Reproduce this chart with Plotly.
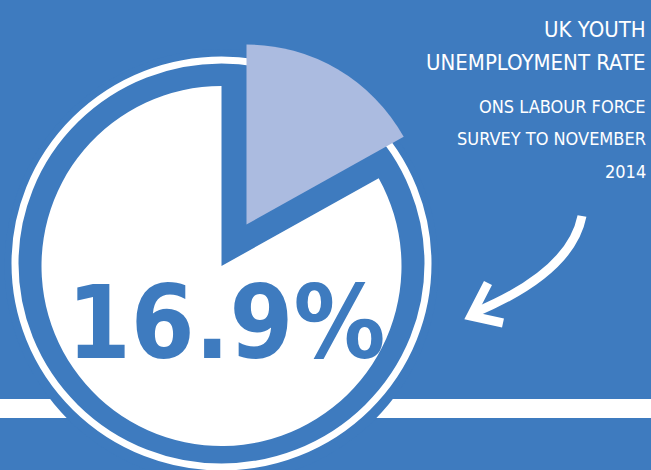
import plotly.graph_objects as go

# ---- data ----
categories = ["Unemployed (16-24)", "Rest"]
values = [16.9, 83.1]
big_label = "16.9%"
title_lines = ["UK YOUTH", "UNEMPLOYMENT RATE"]
subtitle_lines = ["ONS LABOUR FORCE", "SURVEY TO NOVEMBER", "2014"]

W, H = 651, 470
BLUE = "#3e7bbf"
LIGHT = "#abbbe0"
WHITE = "#ffffff"
CLEAR = "rgba(0,0,0,0)"
FONT = "DejaVu Sans Condensed, Liberation Sans Narrow, Arial Narrow, sans-serif"


def px(x):
    return x / W


def py(y):
    return 1 - y / H


def dom(cx, cy, r):
    return dict(x=[px(cx - r), px(cx + r)], y=[py(cy + r), py(cy - r)])


fig = go.Figure()

# main (white) part of the pie
fig.add_trace(go.Pie(
    labels=categories, values=values, sort=False, direction="clockwise",
    rotation=0, textinfo="none", hoverinfo="skip", showlegend=False,
    marker=dict(colors=[CLEAR, WHITE], line=dict(width=0)),
    domain=dom(221.5, 266, 180),
))
# exploded (light) slice
fig.add_trace(go.Pie(
    labels=categories, values=values, sort=False, direction="clockwise",
    rotation=0, textinfo="none", hoverinfo="skip", showlegend=False,
    marker=dict(colors=[LIGHT, CLEAR], line=dict(width=0)),
    domain=dom(246.5, 224.5, 180),
))

shapes = [
    # white band
    dict(type="rect", xref="paper", yref="paper", x0=0, x1=1,
         y0=py(418), y1=py(399), fillcolor=WHITE, line=dict(width=0),
         layer="below"),
    # blue disc interrupting the band
    dict(type="circle", xref="paper", yref="paper",
         x0=px(221.5 - 217), x1=px(221.5 + 217),
         y0=py(266 + 217), y1=py(266 - 217),
         fillcolor=BLUE, line=dict(width=0), layer="below"),
    # white ring
    dict(type="circle", xref="paper", yref="paper",
         x0=px(15), x1=px(428), y0=py(467), y1=py(60),
         fillcolor=CLEAR, line=dict(color=WHITE, width=7), layer="below"),
    # arrow body
    dict(type="path", xref="paper", yref="paper",
         path=f"M {px(582)} {py(216)} Q {px(571)} {py(272)} {px(476)} {py(312)}",
         line=dict(color=WHITE, width=9), fillcolor=CLEAR, layer="above"),
    # arrow head
    dict(type="path", xref="paper", yref="paper",
         path=f"M {px(488)} {py(283)} L {px(471)} {py(316)} L {px(503)} {py(323)}",
         line=dict(color=WHITE, width=9), fillcolor=CLEAR, layer="above"),
]

annotations = [
    dict(text=big_label, x=px(226), y=py(322), xref="paper", yref="paper",
         xanchor="center", yanchor="middle", showarrow=False,
         font=dict(family=FONT, size=102, color=BLUE, weight="bold")),
]
title_y = [29.5, 62.5]
for t, yy in zip(title_lines, title_y):
    annotations.append(dict(
        text=t, x=px(648), y=py(yy), xref="paper", yref="paper",
        xanchor="right", yanchor="middle", showarrow=False,
        font=dict(family=FONT, size=22, color=WHITE)))
sub_y = [106, 139, 171]
for t, yy in zip(subtitle_lines, sub_y):
    annotations.append(dict(
        text=t, x=px(648), y=py(yy), xref="paper", yref="paper",
        xanchor="right", yanchor="middle", showarrow=False,
        font=dict(family=FONT, size=18, color=WHITE)))

fig.update_layout(
    width=W, height=H, margin=dict(l=0, r=0, t=0, b=0),
    paper_bgcolor=BLUE, plot_bgcolor=BLUE,
    shapes=shapes, annotations=annotations, showlegend=False,
)

fig.write_html(
    "out.html", config={"displayModeBar": False},
    post_script="document.body.style.margin='0';"
                "document.body.style.background='" + BLUE + "';",
)
